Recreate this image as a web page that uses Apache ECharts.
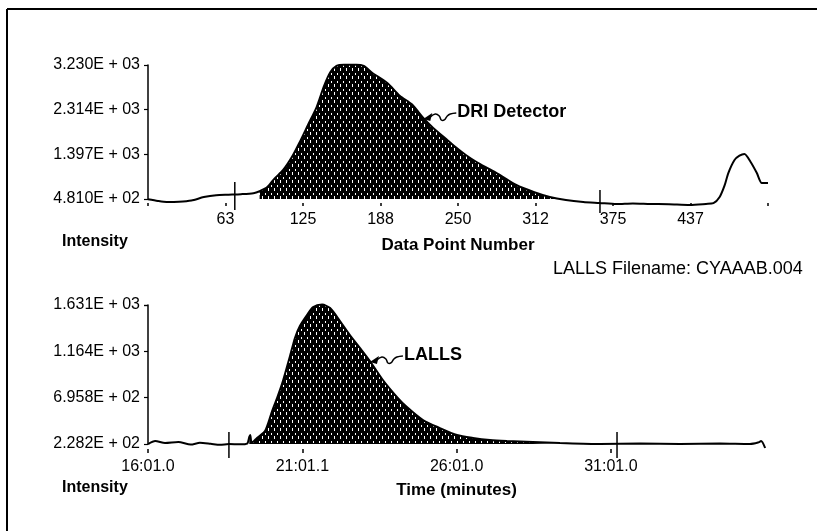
<!DOCTYPE html>
<html><head><meta charset="utf-8">
<script src="https://cdn.jsdelivr.net/npm/echarts@6/dist/echarts.min.js"></script>
<style>html,body{margin:0;padding:0;background:#fff}#c{width:817px;height:531px}</style>
</head><body><div id="c"></div>
<script>
// ---- DRI detector trace (top) ----
const driPoint = [0,8,15,25,35,45,55,65,75,85,90,96,102,109,116,122,129,136,142,147,152,158,168,174,181,193,203,213,222,230,240,248,256,265,275,284,297,311,324,337,351,364,378,391,405,420,437,450,456,461,465,468,473,477,481,486,491,495,500];
const driIntensity = [475,440,420,425,450,520,560,570,580,600,640,720,900,1076,1340,1630,2000,2368,2800,3080,3210,3235,3235,3210,3066,2861,2600,2420,2143,1938,1720,1548,1390,1240,1100,973,768,625,522,460,420,400,378,390,380,375,358,380,395,522,760,1014,1281,1370,1404,1240,1014,809,809];
const driFillRange = [88, 342];
const driMarkers = [[70, 830, 255], [364.5, 666, 194]];
const driYTicks = ['4.810E + 02','1.397E + 03','2.314E + 03','3.230E + 03'];
const driXTicks = ['', '63','125','188','250','312','375','437',''];
const driLabelAnchor = [222, 2143];

// ---- LALLS trace (bottom) ----
const lallsTime = [16.02,16.25,16.57,17.0,17.4,17.7,18.05,18.35,18.64,19.0,19.23,19.3,19.33,19.38,19.55,19.81,20.04,20.2,20.39,20.62,20.78,20.94,21.17,21.37,21.66,21.92,22.24,22.56,22.89,23.21,23.63,24.09,24.41,24.93,25.48,26.03,26.55,27.1,27.65,28.49,29.37,30.67,31.97,33.26,34.56,35.53,35.79,35.89,36.02];
const lallsIntensity = [228,258,238,248,222,240,230,220,228,225,232,300,319,240,289,359,561,692,864,1116,1298,1419,1530,1610,1635,1600,1469,1328,1197,1066,874,702,601,470,389,319,289,268,258,248,238,228,233,228,233,228,243,258,188];
const lallsFillRange = [19.3, 29.4];
const lallsMarkers = [[18.64, 349, 87], [31.22, 349, 87]];
const lallsYTicks = ['2.282E + 02','6.958E + 02','1.164E + 03','1.631E + 03'];
const lallsXTicks = ['16:01.0','21:01.1','26:01.0','31:01.0',''];
const lallsLabelAnchor = [23.21, 1066];

const FONT = '"Liberation Sans", Arial, sans-serif';

function makePattern() {
  const c = document.createElement('canvas');
  c.width = 6; c.height = 8;
  const g = c.getContext('2d');
  g.fillStyle = '#000'; g.fillRect(0, 0, 6, 8);
  g.fillStyle = '#fff';
  g.fillRect(1, 1, 1, 2);
  g.fillRect(4, 4, 1, 3);
  return c;
}
const pattern = { image: makePattern(), repeat: 'repeat' };

const driData = driPoint.map((x, i) => [x, driIntensity[i]]);
const lallsData = lallsTime.map((x, i) => [x, lallsIntensity[i]]);
const driFill = driData.filter(d => d[0] >= driFillRange[0] && d[0] <= driFillRange[1]);
const lallsFill = lallsData.filter(d => d[0] >= lallsFillRange[0] && d[0] <= lallsFillRange[1]);

function yAxisCfg(gridIndex, min, max, labels) {
  return {
    type: 'value', gridIndex, min, max, interval: (max - min) / 3,
    axisLine: { show: true, lineStyle: { color: '#000', width: 1.5 } },
    axisTick: { show: true, length: 4, lineStyle: { color: '#000', width: 1.2 } },
    splitLine: { show: false },
    axisLabel: { margin: 8, color: '#000', fontSize: 16, fontFamily: FONT,
      formatter: (v, i) => labels[i] || '' }
  };
}

function markerSeries(list, xi) {
  return list.map(m => ({
    type: 'line', xAxisIndex: xi, yAxisIndex: xi, clip: false, silent: true,
    symbol: 'none', data: [[m[0], m[1]], [m[0], m[2]]],
    lineStyle: { color: '#000', width: 1.5 }, z: 5
  }));
}

const chart = echarts.init(document.getElementById('c'), null, { renderer: 'canvas' });
const option = {
  backgroundColor: '#fff',
  animation: false,
  grid: [
    { left: 148, top: 65, width: 620, height: 134 },
    { left: 148, top: 305, width: 617, height: 139 }
  ],
  xAxis: [
    { type: 'value', gridIndex: 0, min: 0, max: 500, interval: 62.5, offset: 4,
      axisLine: { show: false },
      axisTick: { show: true, length: 3, lineStyle: { color: '#000', width: 1.5 } },
      splitLine: { show: false },
      axisLabel: { margin: 9, color: '#000', fontSize: 16, fontFamily: FONT,
        formatter: (v, i) => driXTicks[i] || '' },
      name: 'Data Point Number', nameLocation: 'middle', nameGap: 34,
      nameTextStyle: { color: '#000', fontSize: 17, fontWeight: 'bold', fontFamily: FONT } },
    { type: 'value', gridIndex: 1, min: 16 + 1 / 60, max: 36 + 1 / 60, interval: 5, offset: 5,
      axisLine: { show: false },
      axisTick: { show: true, length: 4, lineStyle: { color: '#000', width: 1.5 } },
      splitLine: { show: false },
      axisLabel: { margin: 10, color: '#000', fontSize: 16, fontFamily: FONT, showMaxLabel: false,
        formatter: (v, i) => lallsXTicks[i] || '' },
      name: 'Time (minutes)', nameLocation: 'middle', nameGap: 33,
      nameTextStyle: { color: '#000', fontSize: 17, fontWeight: 'bold', fontFamily: FONT } }
  ],
  yAxis: [
    yAxisCfg(0, 481, 3230, driYTicks),
    yAxisCfg(1, 228.2, 1631, lallsYTicks)
  ],
  series: [
    { type: 'line', xAxisIndex: 0, yAxisIndex: 0, data: driFill, symbol: 'none', smooth: 0.25,
      lineStyle: { width: 0 }, areaStyle: { color: pattern, opacity: 1, origin: 'start' }, z: 2 },
    { type: 'line', xAxisIndex: 0, yAxisIndex: 0, data: driData, symbol: 'none', smooth: 0.25, clip: false,
      lineStyle: { color: '#000', width: 2 }, z: 3 },
    { type: 'line', xAxisIndex: 1, yAxisIndex: 1, data: lallsFill, symbol: 'none', smooth: 0.25,
      lineStyle: { width: 0 }, areaStyle: { color: pattern, opacity: 1, origin: 'start' }, z: 2 },
    { type: 'line', xAxisIndex: 1, yAxisIndex: 1, data: lallsData, symbol: 'none', smooth: 0.25, clip: false,
      lineStyle: { color: '#000', width: 2 }, z: 3 },
    ...markerSeries(driMarkers, 0),
    ...markerSeries(lallsMarkers, 1)
  ]
};
chart.setOption(option);

function arrowLabel(p, text) {
  const hx = p[0], hy = p[1];
  return [
    { type: 'polygon', z: 10, shape: { points: [[hx, hy + 1], [hx + 9, hy - 5], [hx + 7, hy + 3]] },
      style: { fill: '#000' } },
    { type: 'polyline', z: 10, shape: { smooth: 0.4, points: [[hx + 7, hy - 1], [hx + 12, hy - 4], [hx + 16, hy - 2], [hx + 18, hy + 2], [hx + 21, hy + 2], [hx + 24, hy - 2], [hx + 27, hy - 4], [hx + 33, hy - 5]] },
      style: { stroke: '#000', lineWidth: 1.5, fill: null } },
    { type: 'text', z: 10, style: { text, x: hx + 34, y: hy - 6, textVerticalAlign: 'middle',
      font: 'bold 18px ' + FONT, fill: '#000' } }
  ];
}

const pDri = chart.convertToPixel({ gridIndex: 0 }, driLabelAnchor);
const pLalls = chart.convertToPixel({ gridIndex: 1 }, lallsLabelAnchor);

chart.setOption({
  graphic: [
    { type: 'line', shape: { x1: 7, y1: 9, x2: 7, y2: 531 }, style: { stroke: '#000', lineWidth: 2 } },
    { type: 'line', shape: { x1: 7, y1: 9, x2: 817, y2: 9 }, style: { stroke: '#000', lineWidth: 2 } },
    { type: 'text', style: { text: 'Intensity', x: 62, y: 242, textVerticalAlign: 'middle', font: 'bold 16px ' + FONT, fill: '#000' } },
    { type: 'text', style: { text: 'Intensity', x: 62, y: 488, textVerticalAlign: 'middle', font: 'bold 16px ' + FONT, fill: '#000' } },
    { type: 'text', style: { text: 'LALLS Filename: CYAAAB.004', x: 553, y: 269, textVerticalAlign: 'middle', font: '18px ' + FONT, fill: '#000' } },
    ...arrowLabel(pDri, 'DRI Detector'),
    ...arrowLabel(pLalls, 'LALLS')
  ]
});
</script>
</body></html>
